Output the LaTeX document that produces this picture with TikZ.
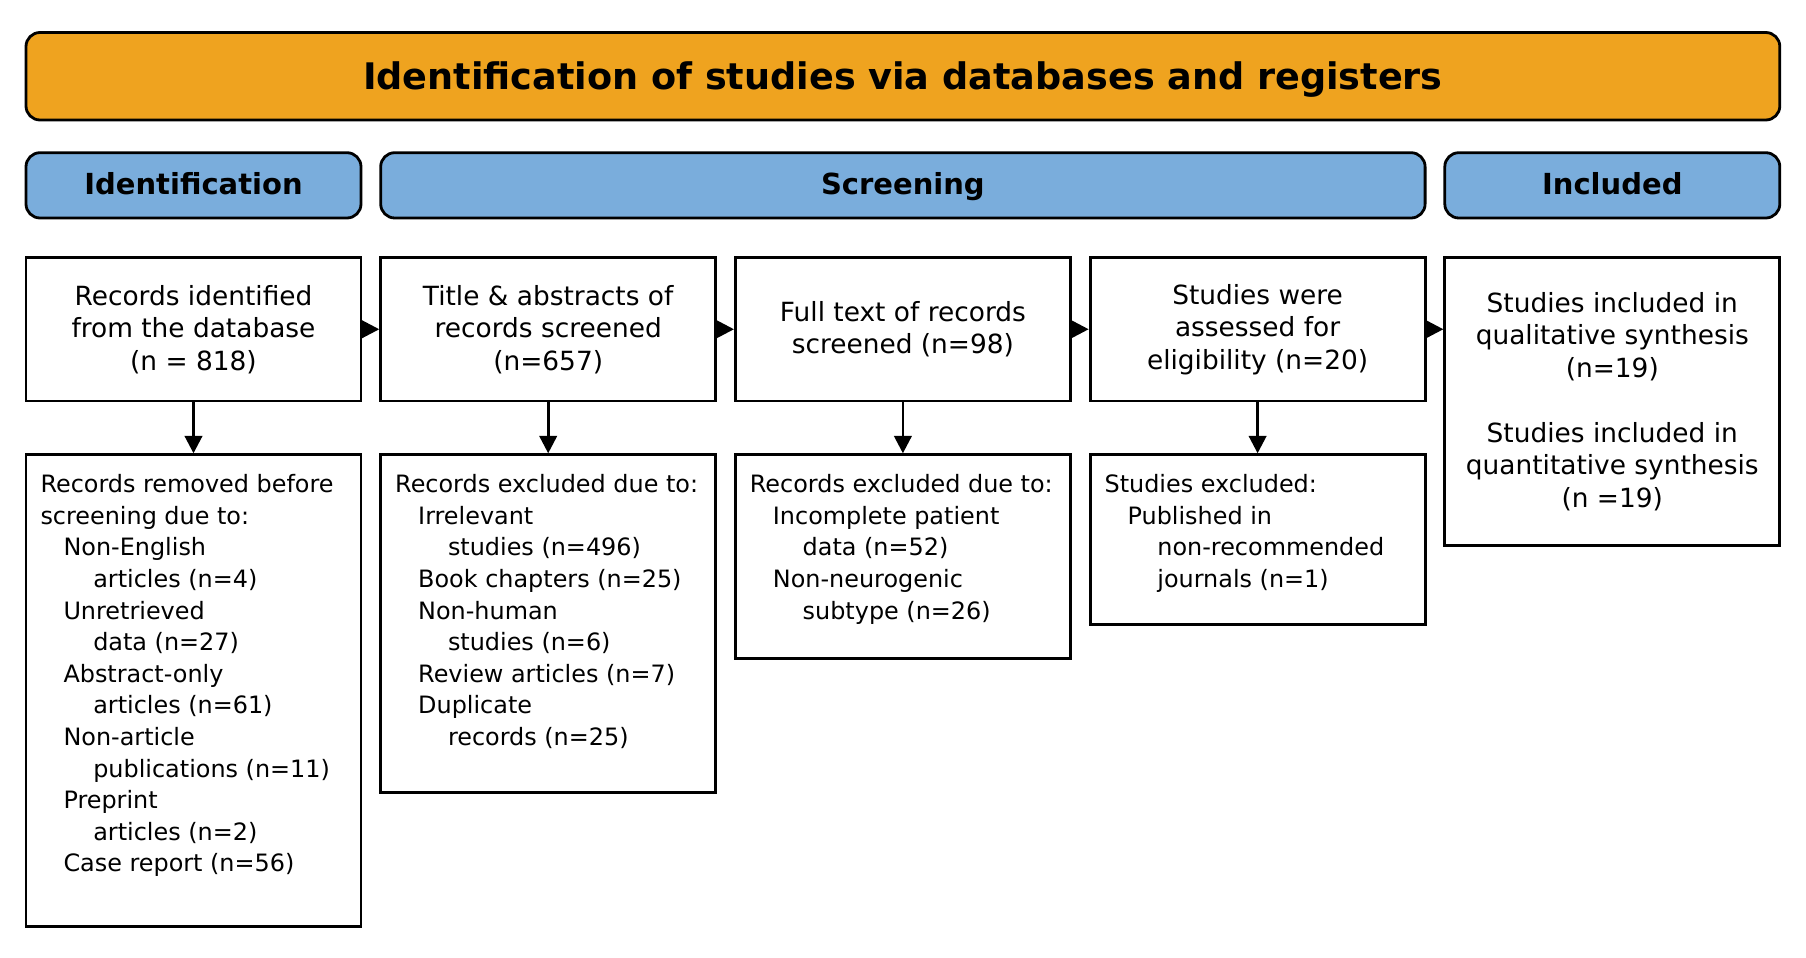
\documentclass[tikz,border=0pt]{standalone}
\usepackage{fontspec}
\setmainfont{DejaVu Sans}
\usetikzlibrary{arrows.meta}
\definecolor{orangeC}{RGB}{239,163,31}
\definecolor{blueC}{RGB}{122,173,220}
\newcommand{\lvA}{\hspace*{11.5pt}}
\newcommand{\lvB}{\hspace*{26.4pt}}
\tikzset{
  titlebox/.style={draw, line width=1.4pt, rounded corners=7pt, fill=orangeC,
    minimum width=876.9pt, minimum height=43.75pt, inner sep=0pt,
    text height=14pt, text depth=1pt,
    font=\bfseries\fontsize{18.3}{21}\selectfont},
  phase/.style={draw, line width=1.4pt, rounded corners=7pt, fill=blueC,
    minimum height=32.65pt, inner sep=0pt,
    text height=11pt, text depth=2pt,
    font=\bfseries\fontsize{14.5}{17}\selectfont},
  mainbox/.style={draw, line width=1.4pt, fill=white, minimum width=167.5pt,
    minimum height=71.75pt, align=center, inner sep=0pt,
    font=\fontsize{13.2}{16.25}\selectfont},
  exbox/.style={draw, line width=1.4pt, fill=white, minimum width=167.5pt,
    anchor=north, inner sep=0pt},
  extext/.style={anchor=north west, align=left, inner sep=0pt,
    font=\fontsize{11.95}{15.8}\selectfont},
  arr/.style={line width=1.4pt, -{Triangle[length=8.7pt,width=8.7pt]}}
}
\begin{document}
\begin{tikzpicture}[x=0.5pt, y=-0.5pt]
\useasboundingbox (0,0) rectangle (1806,958);

\node[titlebox] (title) at (902.9,76.25) {Identification of studies via databases and registers};

\node[phase, minimum width=167.5pt] (pid) at (193.5,185.35) {Identification};
\node[phase, minimum width=522.2pt] (pscr) at (902.9,185.35) {Screening};
\node[phase, minimum width=167.5pt] (pinc) at (1612.3,185.35) {Included};

\node[mainbox] (t1) at (193.5,329.25) {Records identified\\from the database\\(n = 818)};
\node[mainbox] (t2) at (548.2,329.25) {Title \& abstracts of\\records screened\\(n=657)};
\node[mainbox] (t3) at (902.9,329.25) {Full text of records\\screened (n=98)};
\node[mainbox] (t4) at (1257.6,329.25) {Studies were\\assessed for\\eligibility (n=20)};
\node[mainbox, minimum height=144pt] (inc) at (1612.3,401.5) {Studies included in\\qualitative synthesis\\(n=19)\\[16.25pt]Studies included in\\quantitative synthesis\\(n =19)};

\node[exbox, minimum height=235.85pt] (e1) at (193.5,453.3) {};
\node[exbox, minimum height=168.85pt] (e2) at (548.2,453.3) {};
\node[exbox, minimum height=101.7pt] (e3) at (902.9,453.3) {};
\node[exbox, minimum height=85pt] (e4) at (1257.6,453.3) {};

\node[extext] (e1t) at ([xshift=7.75pt,yshift=-10.4pt]e1.north west) {Records removed before\\screening due to:\\\lvA Non-English\\\lvB articles (n=4)\\\lvA Unretrieved\\\lvB data (n=27)\\\lvA Abstract-only\\\lvB articles (n=61)\\\lvA Non-article\\\lvB publications (n=11)\\\lvA Preprint\\\lvB articles (n=2)\\\lvA Case report (n=56)};
\node[extext] (e2t) at ([xshift=7.75pt,yshift=-10.4pt]e2.north west) {Records excluded due to:\\\lvA Irrelevant\\\lvB studies (n=496)\\\lvA Book chapters (n=25)\\\lvA Non-human\\\lvB studies (n=6)\\\lvA Review articles (n=7)\\\lvA Duplicate\\\lvB records (n=25)};
\node[extext] (e3t) at ([xshift=7.75pt,yshift=-10.4pt]e3.north west) {Records excluded due to:\\\lvA Incomplete patient\\\lvB data (n=52)\\\lvA Non-neurogenic\\\lvB subtype (n=26)};
\node[extext] (e4t) at ([xshift=7.75pt,yshift=-10.4pt]e4.north west) {Studies excluded:\\\lvA Published in\\\lvB non-recommended\\\lvB journals (n=1)};

\draw[arr] (t1.east) -- (t2.west);
\draw[arr] (t2.east) -- (t3.west);
\draw[arr] (t3.east) -- (t4.west);
\draw[arr] (t4.east) -- (t4.east -| inc.west);
\draw[arr] (t1.south) -- (e1.north);
\draw[arr] (t2.south) -- (e2.north);
\draw[arr] (t3.south) -- (e3.north);
\draw[arr] (t4.south) -- (e4.north);
\end{tikzpicture}
\end{document}
